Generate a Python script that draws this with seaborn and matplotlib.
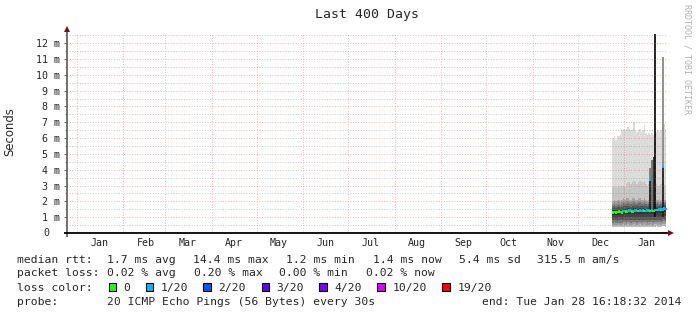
import numpy as np
import pandas as pd
import matplotlib
matplotlib.use("Agg")
import matplotlib.pyplot as plt
import matplotlib.dates as mdates
from matplotlib.patches import Rectangle
import seaborn as sns

# ---------------- data ----------------
days = pd.date_range("2013-12-24", "2014-01-28", freq="D")  # 36 daily samples

smoke_top = [6.0, 6.1, 5.9, 6.1, 6.1, 6.2, 6.5, 6.6, 6.5, 6.6, 6.7, 6.6, 6.5, 6.6, 7.0, 6.5, 6.4, 6.5,
             6.6, 6.4, 6.5, 6.8, 6.3, 6.2, 6.3, 6.2, 6.3, 6.2, 6.3, 6.4, 6.5, 6.4, 6.5, 6.8, 6.9, 6.6]
smoke_upper = [2.9, 3.0, 2.9, 2.9, 3.0, 2.9, 3.0, 3.0, 2.9, 3.1, 3.2, 3.2, 3.1, 3.2, 3.3, 3.2, 3.1, 3.2,
               3.3, 3.2, 3.2, 3.3, 3.1, 3.0, 3.1, 3.0, 3.0, 3.1, 3.0, 3.1, 3.0, 3.0, 3.1, 3.2, 3.1, 3.0]
smoke_mid = [2.0, 2.1, 2.0, 2.1, 2.1, 2.0, 2.1, 2.2, 2.1, 2.2, 2.2, 2.1, 2.1, 2.2, 2.2, 2.1, 2.1, 2.2,
             2.2, 2.1, 2.1, 2.2, 2.1, 2.0, 2.1, 2.0, 2.1, 2.1, 2.0, 2.1, 2.1, 2.0, 2.1, 2.2, 2.1, 2.1]
median = [1.30, 1.32, 1.30, 1.33, 1.35, 1.32, 1.30, 1.38, 1.40, 1.36, 1.40, 1.42, 1.38, 1.36, 1.40, 1.42,
          1.40, 1.38, 1.42, 1.40, 1.42, 1.38, 1.40, 1.42, 1.44, 1.40, 1.42, 1.40, 1.45, 1.46, 1.44, 1.48,
          1.45, 1.50, 1.55, 1.52]
smoke_low = [0.80, 0.82, 0.80, 0.78, 0.80, 0.82, 0.80, 0.85, 0.82, 0.80, 0.84, 0.82, 0.80, 0.82, 0.85,
             0.82, 0.80, 0.82, 0.84, 0.80, 0.82, 0.85, 0.82, 0.80, 0.82, 0.84, 0.82, 0.80, 0.84, 0.85,
             0.82, 0.84, 0.82, 0.86, 0.88, 0.85]
smoke_bottom = [0.35, 0.38, 0.35, 0.36, 0.38, 0.35, 0.36, 0.40, 0.38, 0.36, 0.40, 0.38, 0.36, 0.38, 0.40,
                0.38, 0.36, 0.38, 0.40, 0.36, 0.38, 0.40, 0.38, 0.36, 0.38, 0.40, 0.38, 0.36, 0.40, 0.42,
                0.38, 0.40, 0.38, 0.42, 0.44, 0.40]
loss = [0, 0, 0, 0, 0, 0, 0, 1, 1, 0, 1, 1, 1, 0, 1, 1, 1, 0, 1, 1, 1, 0, 1, 1, 1, 0, 1, 0, 1, 1, 0, 1,
        0, 1, 1, 1]

spike_time = ["2014-01-18 14:00", "2014-01-18 14:00", "2014-01-19 22:00", "2014-01-21 02:00",
              "2014-01-21 22:00", "2014-01-26 19:00", "2014-01-26 19:00"]
spike_low = [1.4, 3.35, 1.5, 1.5, 1.0, 1.0, 4.2]
spike_high = [3.35, 4.1, 4.6, 4.8, 12.7, 4.2, 11.1]
spike_median_time = ["2014-01-18 14:00", "2014-01-26 19:00"]
spike_median = [3.35, 4.2]

y_ticks = list(range(1, 13))
y_labels = [f"{v} m" for v in y_ticks]
month_starts = pd.date_range("2013-01-01", "2014-01-01", freq="MS")
month_names = ["Jan", "Feb", "Mar", "Apr", "May", "Jun", "Jul", "Aug", "Sep", "Oct", "Nov", "Dec", "Jan"]

loss_labels = ["0", "1/20", "2/20", "3/20", "4/20", "10/20", "19/20"]
loss_colors = ["#26ff00", "#00b8ff", "#0059ff", "#5e00ff", "#7e00ff", "#dd00ff", "#ff0000"]

# ---------------- figure ----------------
W, H = 697, 315
sns.set_style("white")
plt.rcParams["font.family"] = ["DejaVu Sans Mono", "DejaVu Sans"]
fig = plt.figure(figsize=(W / 100, H / 100), dpi=100)
fig.patch.set_facecolor("white")

PX_PER_MS = 15.82
YMAX = 12.6
ytop = 233 - YMAX * PX_PER_MS
ax = fig.add_axes([67 / W, (H - 233) / H, 600 / W, (233 - ytop) / H])
ax.set_facecolor("white")

x0 = pd.Timestamp("2012-12-25 14:24")
ax.set_xlim(mdates.date2num(x0), mdates.date2num(x0 + pd.Timedelta(days=400)))
ax.set_ylim(0, YMAX)

# smoke bands (step, one value per day)
xe = mdates.date2num(list(days) + [days[-1] + pd.Timedelta(days=1)])
def ext(a):
    a = np.asarray(a, float)
    return np.append(a, a[-1])
top, up, mid, med, low, bot = map(ext, (smoke_top, smoke_upper, smoke_mid, median, smoke_low, smoke_bottom))

def band(lo, hi, color):
    ax.fill_between(xe, lo, hi, step="post", color=color, linewidth=0, zorder=2)

band(up, top, "#dcdcdc")
band(mid, up, "#c6c6c6")
shades_up = ["#3c3c3c", "#555555", "#6f6f6f", "#8a8a8a", "#a6a6a6"]
n = len(shades_up)
for i, c in enumerate(shades_up):
    band(med + (mid - med) * i / n, med + (mid - med) * (i + 1) / n, c)
shades_dn = ["#bdbdbd", "#9c9c9c", "#7a7a7a"]
n = len(shades_dn)
for i, c in enumerate(shades_dn):
    band(bot + (low - bot) * i / n, bot + (low - bot) * (i + 1) / n, c)
shades_dn2 = ["#5a5a5a", "#444444", "#363636"]
n = len(shades_dn2)
for i, c in enumerate(shades_dn2):
    band(low + (med - low) * i / n, low + (med - low) * (i + 1) / n, c)

# spikes
spike_colors = ["#1e1e1e", "#7a7a7a", "#6a6a6a", "#2a2a2a", "#111111", "#1e1e1e", "#888888"]
ax.vlines(mdates.date2num(pd.to_datetime(spike_time)), spike_low, spike_high,
          colors=spike_colors, linewidth=1.3, zorder=3)

# median line coloured by loss
mdf = pd.DataFrame({"t": mdates.date2num(days + pd.Timedelta(hours=12)),
                    "median": median,
                    "loss": [loss_labels[v] for v in loss]})
sns.scatterplot(data=mdf, x="t", y="median", hue="loss", palette=dict(zip(loss_labels, loss_colors)),
                marker="s", s=3.2, linewidth=0, legend=False, ax=ax, zorder=4)
sdf = pd.DataFrame({"t": mdates.date2num(pd.to_datetime(spike_median_time)), "median": spike_median})
sns.scatterplot(data=sdf, x="t", y="median", color=loss_colors[1], marker="s", s=3.2,
                linewidth=0, legend=False, ax=ax, zorder=4)

# grid (drawn on top as rrdtool does), 1px dotted
major_c = (0.95, 0.35, 0.35, 0.45)
minor_c = (0.45, 0.45, 0.45, 0.38)
for v in np.arange(0.5, 12.6, 0.5):
    c = major_c if abs(v - round(v)) < 1e-6 else minor_c
    ax.axhline(v, color=c, lw=0.72, ls=(0.5, (1, 1.6)), zorder=5)
for m in month_starts:
    ax.axvline(mdates.date2num(m), color=major_c, lw=0.72, ls=(0.5, (1, 1.6)), zorder=5)

# ticks
for s in ax.spines.values():
    s.set_visible(False)
ax.set_yticks(y_ticks)
ax.set_yticklabels(y_labels)
ax.set_yticks(np.arange(0.5, 12.6, 0.5), minor=True)
ax.tick_params(axis="y", which="major", length=2.2, width=0.7, color="#666666", pad=2.9,
               labelsize=7.2, left=True)
ax.tick_params(axis="y", which="minor", length=1.5, width=0.7, color="#888888", left=True)
mid_month = [m + pd.Timedelta(days=15) for m in month_starts]
ax.set_xticks(mdates.date2num(mid_month))
ax.set_xticklabels(month_names)
ax.tick_params(axis="x", which="both", length=0, pad=3.6, labelsize=7.2)
ax.set_xlabel("")
ax.set_ylabel("")
for lab in ax.get_xticklabels() + ax.get_yticklabels():
    lab.set_fontfamily("DejaVu Sans Mono")

# axis lines with arrows
ph = 233 - ytop
ax.plot([0, 0], [-4 / ph, (233 - 30) / ph], color="#666666", lw=1.3, transform=ax.transAxes,
        clip_on=False, zorder=6, solid_capstyle="butt")
ax.plot([-3 / 600, 668 / 600 - 67 / 600], [0, 0], color="black", lw=1.3, transform=ax.transAxes,
        clip_on=False, zorder=6, solid_capstyle="butt")
ax.plot([0], [(233 - 29.5) / ph], marker="^", color="#7f1010", markersize=4.6, transform=ax.transAxes,
        clip_on=False, zorder=7, markeredgewidth=0)
ax.plot([(670.5 - 67) / 600], [0], marker=">", color="#7f1010", markersize=4.6, transform=ax.transAxes,
        clip_on=False, zorder=7, markeredgewidth=0)

# helper for pixel-placed figure text
def ftxt(x, y, s, **kw):
    kw.setdefault("family", "DejaVu Sans Mono")
    fig.text(x / W, 1 - y / H, s, **kw)

ftxt(43.5, 233, "0", fontsize=7.2, ha="left", va="center")

ftxt(367, 17.7, "Last 400 Days", fontsize=9.5, ha="center", va="baseline")
ftxt(10, 132, "Seconds", fontsize=8.4, ha="center", va="center", rotation=90, family="DejaVu Sans")
ftxt(686.5, 4, "RRDTOOL / TOBI OETIKER", fontsize=6.0, ha="center", va="top", rotation=270,
     color="#b0b0b0")

FS = 8.2
b1, b2, b3, b4 = 263, 276.5, 290.7, 304.7
for x, s in [(16.7, "median rtt:"), (107.3, "1.7 ms avg"), (193.3, "14.4 ms max"), (286, "1.2 ms min"),
             (372.7, "1.4 ms now"), (459, "5.4 ms sd"), (537.3, "315.5 m am/s")]:
    ftxt(x, b1, s, fontsize=FS, va="baseline")
for x, s in [(16.7, "packet loss:"), (107.3, "0.02 % avg"), (194, "0.20 % max"), (279.3, "0.00 % min"),
             (365.7, "0.02 % now")]:
    ftxt(x, b2, s, fontsize=FS, va="baseline")
ftxt(16.7, b3, "loss color:", fontsize=FS, va="baseline")
box_x = [108.7, 145.7, 203.3, 261.7, 319.3, 377.3, 442.3]
for bx, lab, col in zip(box_x, loss_labels, loss_colors):
    fig.add_artist(Rectangle((bx / W, 1 - 291.3 / H), 7.6 / W, 8.0 / H, transform=fig.transFigure,
                             facecolor=col, edgecolor="black", linewidth=0.8))
    ftxt(bx + 15.0, b3, lab, fontsize=FS, va="baseline")
ftxt(16.7, b4, "probe:", fontsize=FS, va="baseline")
ftxt(107.3, b4, "20 ICMP Echo Pings (56 Bytes) every 30s", fontsize=FS, va="baseline")
ftxt(681, b4, "end: Tue Jan 28 16:18:32 2014", fontsize=FS, va="baseline", ha="right")

fig.savefig("out.png", dpi=100, facecolor="white")
